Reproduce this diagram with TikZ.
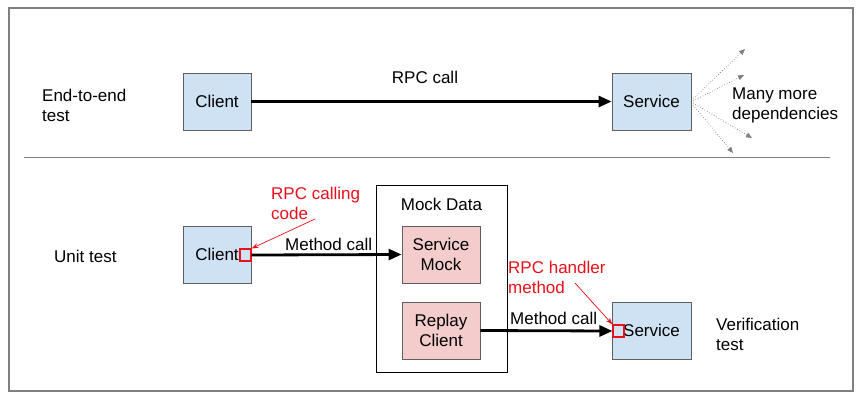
\documentclass[tikz,border=0pt]{standalone}
\usepackage{fontspec}
\setmainfont{Liberation Sans}
\usetikzlibrary{arrows.meta}
\definecolor{bluefill}{HTML}{CFE2F3}
\definecolor{pinkfill}{HTML}{F4CCCC}
\definecolor{boxline}{HTML}{5F5F5F}
\definecolor{frameline}{HTML}{808080}
\definecolor{redtext}{HTML}{E8101A}
\tikzset{
  txt/.style={font=\fontsize{17}{20}\selectfont, inner sep=0pt},
  lbl/.style={txt, anchor=west, align=left},
  bluebox/.style={draw=boxline, line width=0.9pt, fill=bluefill, txt, align=center},
  pinkbox/.style={draw=boxline, line width=0.9pt, fill=pinkfill, txt, align=center},
  redsq/.style={draw=redtext, line width=1.1pt, fill=none, minimum width=11pt, minimum height=12pt, inner sep=0pt},
  bigarrow/.style={line width=2.8pt, -{Triangle[length=13pt,width=11pt]}},
  dotarrow/.style={draw=gray, line width=0.7pt, dotted, -{Triangle[length=6pt,width=5pt,fill=gray]}},
  redarrow/.style={draw=redtext, line width=0.7pt, -{Stealth[length=7pt,width=5pt]}},
}
\begin{document}
\begin{tikzpicture}[x=1pt, y=-1pt]
\useasboundingbox (0,0) rectangle (862,400);
\fill[white] (0,0) rectangle (862,400);
% frame and divider
\draw[frameline, line width=1.4pt] (9,8) rectangle (853,391);
\draw[frameline, line width=0.9pt] (24,157) -- (830,157);

% top section
\node[lbl] (e2e) at (42,105) {End-to-end\\test};
\node[bluebox, minimum width=68pt, minimum height=57pt] (c1) at (217,101.5) {Client};
\node[bluebox, minimum width=79pt, minimum height=57pt] (s1) at (651.5,101.5) {Service};
\node[txt] (rpc) at (425,77) {RPC call};
\draw[bigarrow] (c1.east) -- (s1.west);
\node[lbl] (deps) at (732,105) {Many more\\dependencies};
\coordinate (d1) at (745,49);
\coordinate (d2) at (744,75);
\coordinate (d3) at (752,138);
\coordinate (d4) at (733,153);
\coordinate (o1) at (693,99);
\coordinate (o2) at (693,101);
\coordinate (o3) at (693,103);
\coordinate (o4) at (693,105);
\draw[dotarrow] (o1) -- (d1);
\draw[dotarrow] (o2) -- (d2);
\draw[dotarrow] (o3) -- (d3);
\draw[dotarrow] (o4) -- (d4);

% bottom section
\node[lbl] (unit) at (54,256) {Unit test};
\node[bluebox, minimum width=68pt, minimum height=57pt] (c2) at (217,254.5) {Client};
\node[redsq] (rq1) at (245.5,255) {};
\node[draw=black, line width=0.9pt, minimum width=131pt, minimum height=187pt, inner sep=0pt] (mock) at (441.5,278.5) {};
\node[txt] (mocklbl) at (441.5,204) {Mock Data};
\node[pinkbox, minimum width=78pt, minimum height=57pt] (sm) at (441,254.5) {Service\\Mock};
\node[pinkbox, minimum width=78pt, minimum height=57pt] (rc) at (441,330.5) {Replay\\Client};
\node[bluebox, minimum width=79pt, minimum height=57pt] (s2) at (651.5,330.5) {Service};
\node[redsq] (rq2) at (618.5,331) {};
\node[lbl] (ver) at (716,334) {Verification\\test};

\draw[bigarrow] (rq1.east) -- (sm.west);
\node[txt, anchor=west] (mc1) at (285,244) {Method call};
\draw[bigarrow] (rc.east) -- (rq2.west);
\node[txt, anchor=west] (mc2) at (510,318) {Method call};

\node[lbl, text=redtext] (rpccall) at (271,203) {RPC calling\\code};
\coordinate (r1) at (315,219);
\draw[redarrow] (r1) -- (rq1.north east);
\node[lbl, text=redtext] (rpch) at (508,277) {RPC handler\\method};
\coordinate (r2) at (575,283);
\draw[redarrow] (r2) -- (rq2.north west);
\end{tikzpicture}
\end{document}
